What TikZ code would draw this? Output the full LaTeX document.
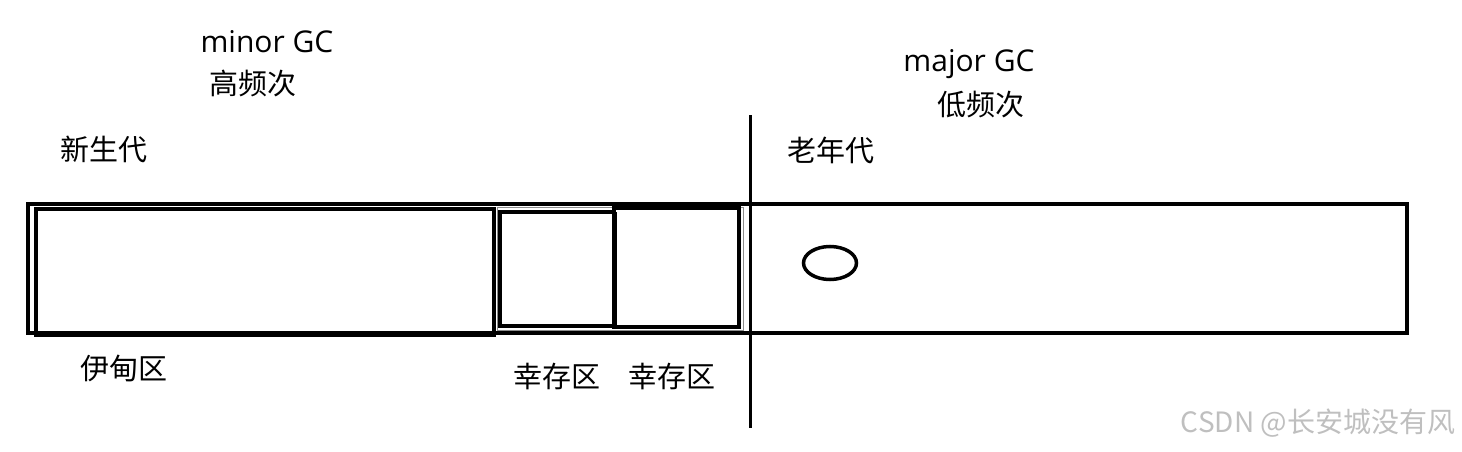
\documentclass[tikz,border=0pt]{standalone}
\usepackage{fontspec}
\setmainfont{Open Sans}
\newfontfamily\cjk{Noto Sans CJK SC}
\usepackage{xcolor}
\usepackage{tikz}
\usetikzlibrary{shapes,positioning,calc}

\begin{document}
\begin{tikzpicture}[
    x=1pt, y=-1pt,
    region/.style={rectangle, draw=black, line width=4pt, inner sep=0pt, outer sep=0pt},
    frame/.style={rectangle, draw=black!45, line width=1pt, inner sep=0pt, outer sep=0pt},
    gclabel/.style={inner sep=0pt, anchor=base, font=\fontsize{30}{34}\selectfont},
    cnlabel/.style={inner sep=0pt, anchor=base, font=\cjk\fontsize{29}{33}\selectfont},
    divline/.style={line width=3pt, black},
    blob/.style={ellipse, draw=black, line width=3.5pt, minimum width=53pt, minimum height=33pt, inner sep=0pt}
]
    \useasboundingbox (0,0) rectangle (1462,452);

    % Heap
    \node[region, line width=3.5pt, minimum width=1379pt, minimum height=129pt] (heap) at (717.5,268.5) {};
    \node[region, line width=4.5pt, minimum width=458pt, minimum height=126pt] (eden) at (265,272) {};
    \node[frame, minimum width=246pt, minimum height=123pt] (survframe) at (620,268.5) {};
    \node[region, minimum width=114pt, minimum height=114pt] (surv1) at (557,269) {};
    \node[region, minimum width=125pt, minimum height=119pt] (surv2) at (676.5,267.5) {};
    \draw[line width=5pt] (surv1.north east) -- (surv1.south east);
    \node[blob] (obj) at (830,263) {};

    % Divider
    \coordinate (divtop) at (750,115);
    \coordinate (divbot) at (750,428);
    \draw[divline] (divtop) -- (divbot);

    % Young generation
    \node[gclabel] (minor) at (267,53) {minor GC};
    \node[cnlabel] (minorfreq) at (253,94) {高频次};
    \node[cnlabel] (young) at (104,160) {新生代};
    \node[cnlabel] (edenlbl) at (124,379) {伊甸区};
    \node[cnlabel] (surv1lbl) at (557,387) {幸存区};
    \node[cnlabel] (surv2lbl) at (672,387) {幸存区};

    % Old generation
    \node[gclabel] (major) at (969,72) {major GC};
    \node[cnlabel] (majorfreq) at (981,115) {低频次};
    \node[cnlabel] (old) at (831,161) {老年代};

    % Watermark
    \node[inner sep=0pt, anchor=base, text=black!25, font=\cjk\fontsize{28}{31}\selectfont] (wm) at (1318,432) {CSDN @长安城没有风};
\end{tikzpicture}
\end{document}
